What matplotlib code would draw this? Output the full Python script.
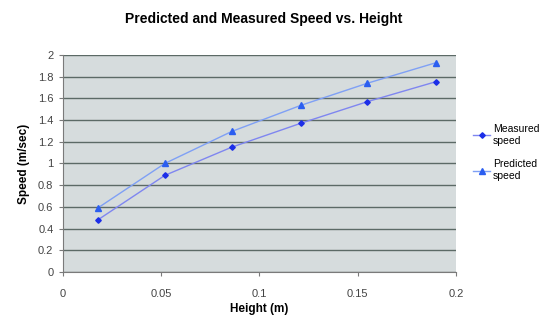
"""Predicted and measured speed vs. height, Excel-style line chart."""

import matplotlib

matplotlib.use("Agg")
import matplotlib.pyplot as plt

HEIGHT = [0.018, 0.052, 0.086, 0.121, 0.155, 0.190]
MEASURED = [0.48, 0.89, 1.15, 1.37, 1.57, 1.755]
PREDICTED = [0.59, 1.00, 1.295, 1.535, 1.74, 1.93]

X_TICKS = [0, 0.05, 0.1, 0.15, 0.2]
X_TICK_LABELS = ["0", "0.05", "0.1", "0.15", "0.2"]
Y_TICKS = [0, 0.2, 0.4, 0.6, 0.8, 1, 1.2, 1.4, 1.6, 1.8, 2]
Y_TICK_LABELS = ["0", "0.2", "0.4", "0.6", "0.8", "1", "1.2", "1.4", "1.6", "1.8", "2"]

plt.rcParams["font.family"] = ["Liberation Sans", "DejaVu Sans"]


def main():
    figure = plt.figure(figsize=(5.39, 3.18), dpi=100)
    figure.patch.set_facecolor("white")
    axis = figure.add_axes([0.116, 0.145, 0.730, 0.682])
    axis.set_facecolor("#d6dcdd")

    axis.plot(HEIGHT, MEASURED, color="#7f86f0", linewidth=1.0,
              marker="D", markersize=2.8, markerfacecolor="#1c2ee8",
              markeredgecolor="#1c2ee8", label="Measured\nspeed", zorder=3)
    axis.plot(HEIGHT, PREDICTED, color="#7fa0f5", linewidth=1.0,
              marker="^", markersize=4, markerfacecolor="#2b5ef0",
              markeredgecolor="#2b5ef0", label="Predicted\nspeed", zorder=3)

    axis.set_xlim(0, 0.2)
    axis.set_ylim(0, 2)
    axis.set_xticks(X_TICKS)
    axis.set_xticklabels(X_TICK_LABELS)
    axis.set_yticks(Y_TICKS)
    axis.set_yticklabels(Y_TICK_LABELS)
    axis.yaxis.grid(True, color="#5c6a66", linewidth=1.0)
    axis.set_axisbelow(True)

    for side in ("top", "right"):
        axis.spines[side].set_visible(False)
    for side in ("left", "bottom"):
        axis.spines[side].set_color("#7a7a7a")
        axis.spines[side].set_linewidth(0.8)
    axis.tick_params(axis="both", colors="#7a7a7a", labelcolor="#444444",
                     labelsize=8, length=3, width=0.8)
    axis.tick_params(axis="x", pad=9)

    axis.set_xlabel("Height (m)", fontsize=8.5, fontweight="bold", labelpad=3)
    axis.set_ylabel("Speed (m/sec)", fontsize=8.5, fontweight="bold", labelpad=6)
    figure.text(0.49, 0.94, "Predicted and Measured Speed vs. Height",
                ha="center", va="center", fontsize=10, fontweight="bold")

    axis.legend(loc="center left", bbox_to_anchor=(1.02, 0.55), frameon=False,
                fontsize=7.5, handlelength=1.6, labelspacing=1.3, handletextpad=0.3)

    figure.savefig("out.png", dpi=100, facecolor="white")
    plt.close(figure)


if __name__ == "__main__":
    main()
